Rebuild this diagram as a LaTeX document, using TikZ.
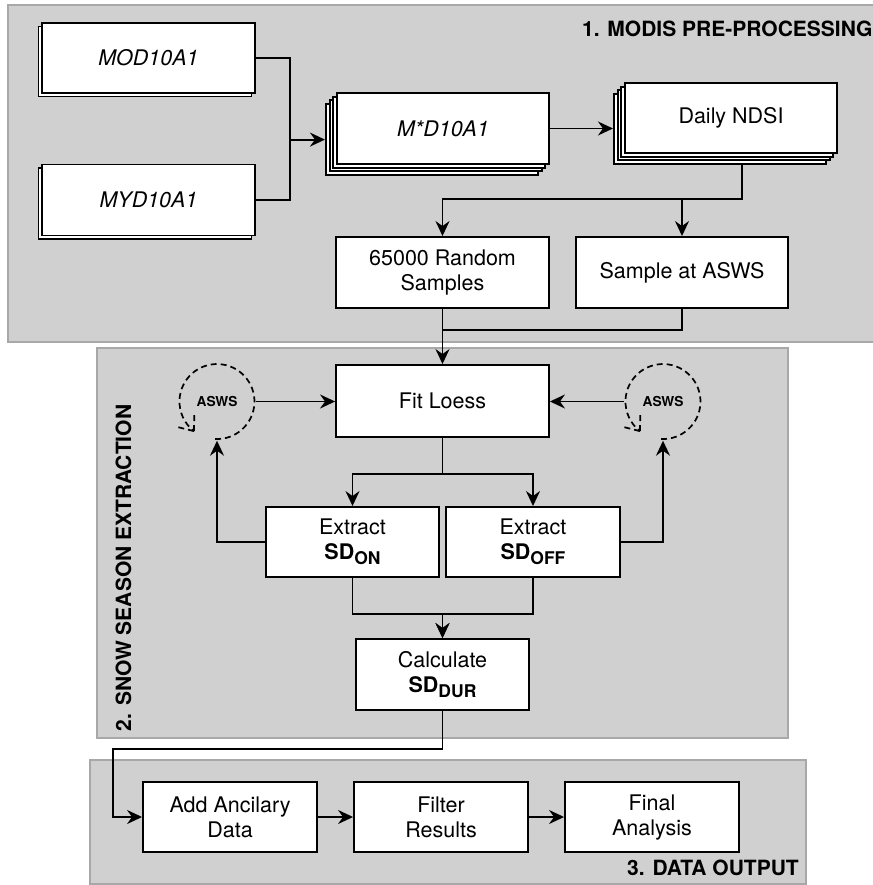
\documentclass[tikz,border=0pt]{standalone}
\usepackage{fontspec}
\setmainfont{TeX Gyre Heros}
\usetikzlibrary{arrows.meta,calc}
\definecolor{panel}{HTML}{D0D0D0}
\definecolor{panelline}{HTML}{A8A8A8}
\newcommand\sdsub[1]{\textbf{SD}\raisebox{-5pt}{\fontsize{17.5}{18}\selectfont\bfseries #1}}
\begin{document}
\begin{tikzpicture}[x=1pt,y=-1pt,
  panelbox/.style={fill=panel, draw=panelline, line width=1.6pt},
  box/.style={draw=black, fill=white, line width=1.9pt, inner sep=0pt, align=center,
    font=\fontsize{21.5}{25}\selectfont},
  conn/.style={line width=1.9pt},
  ptitle/.style={font=\fontsize{21}{25}\selectfont\bfseries, inner sep=0pt},
  aswsnode/.style={circle, minimum size=78pt, inner sep=0pt,
    font=\fontsize{13.7}{14}\selectfont\bfseries},
  dasharc/.style={dash pattern=on 6pt off 4pt, line width=1.7pt},
  >={Stealth[length=15pt,width=14pt,inset=5pt]}]
\useasboundingbox (0,0) rectangle (872,885);
% panels
\path[panelbox] (8,5) rectangle (885,342);
\path[panelbox] (97,348) rectangle (788,738);
\path[panelbox] (90,760) rectangle (806,884);
\node[ptitle, anchor=base west] (t1) at (582,37) {1. MODIS PRE-PROCESSING};
\node[ptitle, anchor=base, rotate=90] (t2) at (131,568) {2. SNOW SEASON EXTRACTION};
\node[ptitle, anchor=base east] (t3) at (799,875) {3. DATA OUTPUT};
% stage 1
\node[box, minimum width=213pt, minimum height=70pt] (modb) at (145,61.5) {};
\node[box, minimum width=213pt, minimum height=70pt] (mod) at (148.5,58) {\itshape MOD10A1};
\node[box, minimum width=213pt, minimum height=71pt] (mydb) at (145,203.5) {};
\node[box, minimum width=213pt, minimum height=71pt] (myd) at (148.5,200) {\itshape MYD10A1};
\node[box, minimum width=212pt, minimum height=71pt] (mxd3) at (431.9,139.6) {};
\node[box, minimum width=212pt, minimum height=71pt] (mxd2) at (435.6,135.9) {};
\node[box, minimum width=212pt, minimum height=71pt] (mxd1) at (439.3,132.2) {};
\node[box, minimum width=212pt, minimum height=71pt] (mxd) at (443,128.5) {\itshape M*D10A1};
\node[box, minimum width=212pt, minimum height=70pt] (ndsi3) at (719.9,129.1) {};
\node[box, minimum width=212pt, minimum height=70pt] (ndsi2) at (723.6,125.4) {};
\node[box, minimum width=212pt, minimum height=70pt] (ndsi1) at (727.3,121.7) {};
\node[box, minimum width=212pt, minimum height=70pt] (ndsi) at (731,118) {Daily NDSI};
\node[box, minimum width=213pt, minimum height=71pt] (rand) at (442.5,272.5) {65000 Random\\Samples};
\node[box, minimum width=212pt, minimum height=71pt] (samp) at (682,272.5) {Sample at ASWS};
% stage 2
\node[box, minimum width=213pt, minimum height=72pt] (fit) at (442.5,401) {Fit Loess};
\node[box, minimum width=173pt, minimum height=70pt] (son) at (352.5,542) {Extract\\\sdsub{ON}};
\node[box, minimum width=174pt, minimum height=70pt] (soff) at (533,542) {Extract\\\sdsub{OFF}};
\node[box, minimum width=173pt, minimum height=71pt] (calc) at (442.5,674.5) {Calculate\\\sdsub{DUR}};
\node[aswsnode] (asws1) at (217,401.5) {ASWS};
\node[aswsnode] (asws2) at (663,401.5) {ASWS};
\foreach \c in {asws1,asws2}{
  \draw[dasharc] ($(\c.center)+(-2,37.5)$) arc[start angle=93, end angle=-232, radius=37.5];
  \draw[dasharc] ($(\c.center)+(-23.1,29.6)$) -- ++(0.5,-19);
  \draw[dasharc] ($(\c.center)+(-23.1,29.6)$) -- ++(-16,-4);
}
% stage 3
\node[box, minimum width=174pt, minimum height=70pt] (add) at (230,817) {Add Ancilary\\Data};
\node[box, minimum width=174pt, minimum height=70pt] (filt) at (441,817) {Filter\\Results};
\node[box, minimum width=174pt, minimum height=70pt] (fin) at (652,817) {Final\\Analysis};
% connectors stage 1
\path (mxd3.west) ++(-35,0) coordinate (j1);
\draw[conn] (mod.east) -| (j1);
\draw[conn] (myd.east) -| (j1);
\draw[conn,->] (j1) -- (mxd3.west);
\draw[conn,->] (mxd.east) -- (mxd.east -| ndsi3.west);
\coordinate (j2) at ([yshift=37pt]rand.north);
\draw[conn,->] ([xshift=22pt]ndsi3.south) |- (j2) -- (rand.north);
\draw[conn,->] (samp.north |- j2) -- (samp.north);
\draw[conn] (samp.south) |- ([yshift=-21pt]rand.south);
\draw[conn,->] (rand.south) -- (fit.north);
% connectors stage 2
\draw[conn,->] (asws1.east) -- (asws1.east -| fit.west);
\draw[conn,->] (asws2.west) -- (asws2.west -| fit.east);
\draw[conn,->] (fit.south) -- ++(0,36) -| (son.north);
\draw[conn,->] (fit.south) ++(0,36) -| (soff.north);
\draw[conn,->] (son.west) -| (asws1.south);
\draw[conn,->] (soff.east) -| (asws2.south);
\draw[conn,->] (son.south) -- ++(0,36) -| (calc.north);
\draw[conn,->] (soff.south) -- ++(0,36) -| (calc.north);
% connectors stage 3
\coordinate (c1) at ([xshift=-29pt,yshift=68pt]add.west);
\draw[conn,->] (calc.south) |- (c1) |- (add.west);
\draw[conn,->] (add.east) -- (filt.west);
\draw[conn,->] (filt.east) -- (fin.west);
\end{tikzpicture}
\end{document}
